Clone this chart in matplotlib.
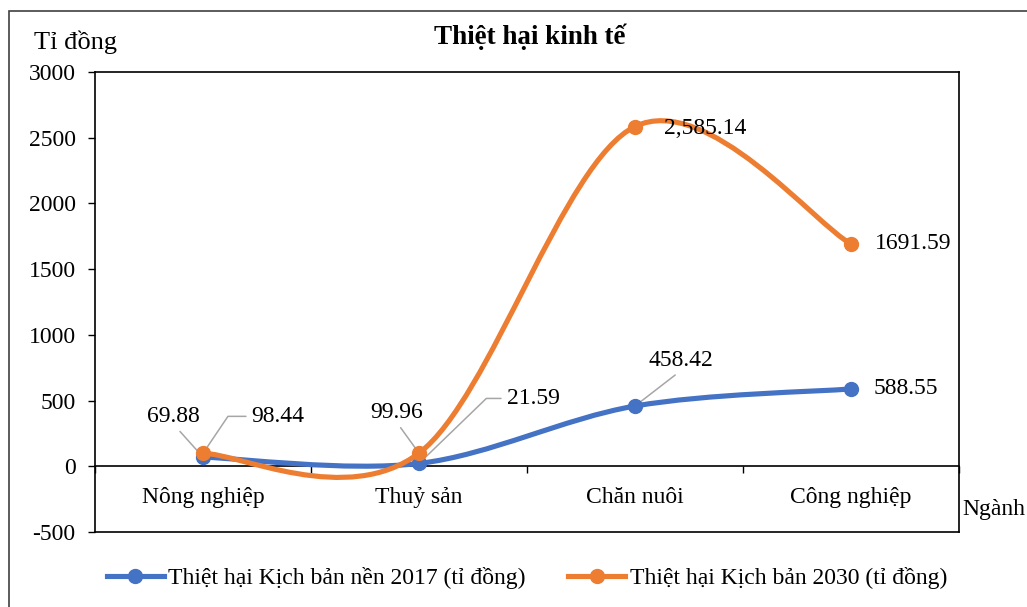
import matplotlib
matplotlib.use('Agg')
import matplotlib.pyplot as plt
from matplotlib.path import Path
from matplotlib.patches import PathPatch, Rectangle
from matplotlib.lines import Line2D

plt.rcParams['font.family'] = ['Liberation Serif', 'DejaVu Serif']
plt.rcParams['axes.unicode_minus'] = False

# Data
categories = ['Nông nghiệp', 'Thuỷ sản', 'Chăn nuôi', 'Công nghiệp']
base_2017 = [69.88, 21.59, 458.42, 588.55]
scenario_2030 = [98.44, 99.96, 2585.14, 1691.59]
base_labels = ['69.88', '21.59', '458.42', '588.55']
scenario_labels = ['98.44', '99.96', '2,585.14', '1691.59']
series_names = ['Thiệt hại Kịch bản nền 2017 (tỉ đồng)', 'Thiệt hại Kịch bản 2030 (tỉ đồng)']
y_ticks = [-500, 0, 500, 1000, 1500, 2000, 2500, 3000]

blue = '#4472C4'
orange = '#ED7D31'
leader = '#A6A6A6'
fs = 17
line_w = 3.7
mark_s = 10


def smooth_path(xs, ys):
    # Excel-style smoothed line: Catmull-Rom converted to cubic beziers
    n = len(xs)
    verts = [(xs[0], ys[0])]
    codes = [Path.MOVETO]
    for i in range(n - 1):
        x0, y0 = (xs[i - 1], ys[i - 1]) if i > 0 else (xs[i], ys[i])
        x3, y3 = (xs[i + 2], ys[i + 2]) if i + 2 < n else (xs[i + 1], ys[i + 1])
        c1 = (xs[i] + (xs[i + 1] - x0) / 6, ys[i] + (ys[i + 1] - y0) / 6)
        c2 = (xs[i + 1] - (x3 - xs[i]) / 6, ys[i + 1] - (y3 - ys[i]) / 6)
        verts += [c1, c2, (xs[i + 1], ys[i + 1])]
        codes += [Path.CURVE4] * 3
    return Path(verts, codes)


fig = plt.figure(figsize=(10.27, 6.07), dpi=100)
ax = fig.add_axes([95 / 1027, 75 / 607, 864 / 1027, 460 / 607])

x = list(range(1, len(categories) + 1))

for vals, col, z in [(base_2017, blue, 3), (scenario_2030, orange, 4)]:
    ax.add_patch(PathPatch(smooth_path(x, vals), facecolor='none', edgecolor=col,
                           lw=line_w, capstyle='round', joinstyle='round', zorder=z))
    ax.plot(x, vals, 'o', color=col, ms=mark_s, zorder=z + 0.5)

ax.set_xlim(0.5, len(categories) + 0.5)
ax.set_ylim(-500, 3000)
ax.set_yticks(y_ticks)
ax.set_xticks(x)
ax.set_xticklabels(categories)
ax.set_xticks([i + 0.5 for i in range(len(categories) + 1)], minor=True)
ax.tick_params(axis='x', which='major', length=0, pad=15, labelsize=fs)
ax.tick_params(axis='x', which='minor', length=5, width=1, direction='out')
ax.tick_params(axis='y', length=5, width=1, direction='out', labelsize=fs, pad=9)

ax.spines['bottom'].set_position(('data', 0))
for s in ax.spines.values():
    s.set_linewidth(1.2)
    s.set_color('black')
ax.plot([0, 1], [0, 0], transform=ax.transAxes, color='black', lw=1.2, clip_on=False, zorder=5)

# data labels
lbl = dict(fontsize=fs, ha='center', va='center', textcoords='offset pixels')
straight = dict(arrowstyle='-', color=leader, lw=1.1, shrinkA=2, shrinkB=0)

ax.annotate(base_labels[0], (x[0], base_2017[0]), xytext=(-30, 41),
            arrowprops=dict(straight, relpos=(0.55, 0)), **lbl)
ax.annotate(scenario_labels[0], (x[0], scenario_2030[0]), xytext=(75, 37),
            arrowprops=dict(straight, connectionstyle='angle,angleA=0,angleB=56,rad=0'), **lbl)
ax.annotate(scenario_labels[1], (x[1], scenario_2030[1]), xytext=(-22, 41),
            arrowprops=dict(straight, relpos=(0.5, 0)), **lbl)
ax.annotate(base_labels[1], (x[1], base_2017[1]), xytext=(114, 65),
            arrowprops=dict(straight, connectionstyle='angle,angleA=0,angleB=44,rad=0'), **lbl)
ax.annotate(base_labels[2], (x[2], base_2017[2]), xytext=(46, 46),
            arrowprops=dict(straight, relpos=(0.5, 0)), **lbl)
ax.annotate(scenario_labels[2], (x[2], scenario_2030[2]), xytext=(70, -2), zorder=6, **lbl)
ax.annotate(scenario_labels[3], (x[3], scenario_2030[3]), xytext=(62, 0), **lbl)
ax.annotate(base_labels[3], (x[3], base_2017[3]), xytext=(55, 0), **lbl)

fig.text(530 / 1027, 1 - 37 / 607, 'Thiệt hại kinh tế', fontsize=19.5, fontweight='bold',
         ha='center', va='center')
fig.text(76 / 1027, 1 - 42 / 607, 'Tỉ đồng', fontsize=19, ha='center', va='center')
fig.text(962 / 1027, 1 - 510 / 607, 'Ngành', fontsize=fs, ha='left', va='center')

handles = [Line2D([], [], color=blue, lw=line_w, marker='o', ms=mark_s),
           Line2D([], [], color=orange, lw=line_w, marker='o', ms=mark_s)]
fig.legend(handles, series_names, loc='center', bbox_to_anchor=(527 / 1027, 1 - 578 / 607),
           ncol=2, frameon=False, fontsize=17, numpoints=1, handlelength=2.4,
           handletextpad=0.2, columnspacing=1.8)

# outer chart border (only left and top edges fall inside the image)
fig.patches.append(Rectangle((9 / 1027, -0.2), 1.5, 1.2 - 10.5 / 607, fill=False,
                             edgecolor='#404040', lw=1.2, transform=fig.transFigure))

fig.savefig('out.png', dpi=100)
